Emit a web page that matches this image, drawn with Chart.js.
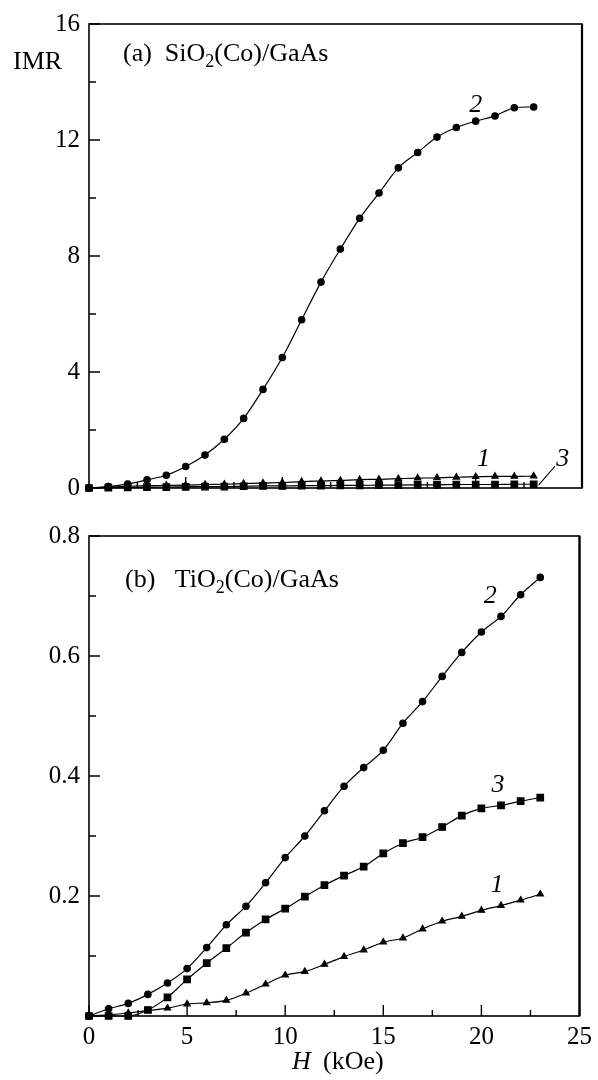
<!DOCTYPE html>
<html>
<head>
<meta charset="utf-8">
<script src="https://cdn.jsdelivr.net/npm/chart.js@4.4.1/dist/chart.umd.min.js"></script>
<style>
  html, body { margin: 0; padding: 0; background: #fff; }
  #wrap { position: relative; width: 598px; height: 1080px; }
  canvas { position: absolute; left: 0; }
  #top { top: 0; }
  #bottom { top: 512px; }
</style>
</head>
<body>
<div id="wrap">
  <canvas id="top" width="598" height="512"></canvas>
  <canvas id="bottom" width="598" height="568"></canvas>
</div>
<script>
// H field, kOe (same grid for both panels)
var fieldH = [0, 1, 2, 3, 4, 5, 6, 7, 8, 9, 10, 11, 12, 13, 14, 15, 16, 17, 18, 19, 20, 21, 22, 23];

// (a) SiO2(Co)/GaAs
var topCurve1 = [0, 0.03, 0.06, 0.08, 0.09, 0.10, 0.12, 0.13, 0.15, 0.17, 0.19, 0.22, 0.24, 0.26, 0.29, 0.30, 0.32, 0.34, 0.35, 0.37, 0.39, 0.40, 0.40, 0.41];
var topCurve2 = [0, 0.05, 0.14, 0.28, 0.44, 0.74, 1.14, 1.68, 2.40, 3.40, 4.50, 5.80, 7.10, 8.24, 9.30, 10.17, 11.04, 11.57, 12.10, 12.43, 12.65, 12.83, 13.11, 13.14];
var topCurve3 = [0, 0.01, 0.02, 0.03, 0.03, 0.04, 0.05, 0.05, 0.06, 0.07, 0.07, 0.08, 0.08, 0.09, 0.09, 0.10, 0.10, 0.11, 0.11, 0.12, 0.12, 0.12, 0.13, 0.13];

// (b) TiO2(Co)/GaAs
var botCurve1 = [0, 0.002, 0.005, 0.009, 0.013, 0.020, 0.022, 0.026, 0.038, 0.053, 0.068, 0.074, 0.086, 0.099, 0.110, 0.123, 0.130, 0.145, 0.158, 0.166, 0.176, 0.184, 0.193, 0.203];
var botCurve2 = [0, 0.012, 0.021, 0.036, 0.055, 0.079, 0.114, 0.152, 0.183, 0.222, 0.264, 0.300, 0.342, 0.383, 0.414, 0.443, 0.488, 0.524, 0.566, 0.606, 0.640, 0.666, 0.702, 0.731];
var botCurve3 = [0, 0, 0, 0.010, 0.031, 0.061, 0.088, 0.113, 0.139, 0.161, 0.179, 0.199, 0.218, 0.234, 0.249, 0.271, 0.288, 0.298, 0.315, 0.334, 0.346, 0.351, 0.358, 0.364];

// tick positions
var xMajorTicks = [0, 5, 10, 15, 20, 25];
var xMinorTicks = [2.5, 7.5, 12.5, 17.5, 22.5];
var topYMajor = [0, 4, 8, 12, 16];
var topYMinor = [2, 6, 10, 14];
var botYMajor = [0, 0.2, 0.4, 0.6, 0.8];
var botYMinor = [0.1, 0.3, 0.5, 0.7];

var SERIF = "'Liberation Serif', serif";

Chart.defaults.font.family = SERIF;
Chart.defaults.font.size = 25;
Chart.defaults.color = '#000';

function pts(ys) {
    return fieldH.map(function(h, i) { return { x: h, y: ys[i] }; });
}

function series(ys, style, r) {
    return {
        data: pts(ys),
        borderColor: '#000',
        backgroundColor: '#000',
        borderWidth: 1.2,
        pointStyle: style,
        pointRadius: r,
        pointHoverRadius: r,
        cubicInterpolationMode: 'monotone',
        clip: false
    };
}

// frame, inward ticks and text
var decor = {
    id: 'decor',
    afterDraw: function(chart, args, o) {
        var ctx = chart.ctx, a = chart.chartArea;
        var xs = chart.scales.x, ys = chart.scales.y;
        ctx.save();
        ctx.strokeStyle = '#000';
        ctx.lineWidth = 1.6;
        ctx.strokeRect(a.left, a.top, a.right - a.left, a.bottom - a.top);
        ctx.lineWidth = 2.2;
        ctx.beginPath();
        ctx.moveTo(a.right, a.top); ctx.lineTo(a.right, a.bottom);
        ctx.stroke();
        ctx.lineWidth = 1.4;
        ctx.beginPath();
        o.xMajor.forEach(function(v) {
            var px = xs.getPixelForValue(v);
            ctx.moveTo(px, a.bottom); ctx.lineTo(px, a.bottom - 11);
        });
        o.xMinor.forEach(function(v) {
            var px = xs.getPixelForValue(v);
            ctx.moveTo(px, a.bottom); ctx.lineTo(px, a.bottom - 6);
        });
        o.yMajor.forEach(function(v) {
            var py = ys.getPixelForValue(v);
            ctx.moveTo(a.left, py); ctx.lineTo(a.left + 11, py);
        });
        o.yMinor.forEach(function(v) {
            var py = ys.getPixelForValue(v);
            ctx.moveTo(a.left, py); ctx.lineTo(a.left + 7, py);
        });
        ctx.stroke();

        // panel title with subscript
        ctx.fillStyle = '#000';
        ctx.textBaseline = 'middle';
        ctx.textAlign = 'left';
        var tx = a.left + o.title.dx, ty = a.top + o.title.dy;
        ctx.font = '26px ' + SERIF;
        ctx.fillText(o.title.pre, tx, ty);
        tx += ctx.measureText(o.title.pre).width;
        ctx.font = '18px ' + SERIF;
        ctx.fillText('2', tx, ty + 8);
        tx += ctx.measureText('2').width;
        ctx.font = '26px ' + SERIF;
        ctx.fillText(o.title.post, tx, ty);

        // curve numbers
        ctx.font = 'italic 26px ' + SERIF;
        ctx.textAlign = 'center';
        o.labels.forEach(function(l) {
            ctx.fillText(l.t, xs.getPixelForValue(l.x), ys.getPixelForValue(l.y));
        });
        if (o.leader) {
            ctx.lineWidth = 1.1;
            ctx.beginPath();
            ctx.moveTo(xs.getPixelForValue(o.leader[0]), ys.getPixelForValue(o.leader[1]));
            ctx.lineTo(xs.getPixelForValue(o.leader[2]), ys.getPixelForValue(o.leader[3]));
            ctx.stroke();
        }

        if (o.extra) o.extra(ctx, chart);
        ctx.restore();
    }
};

// Panel (a)
new Chart(document.getElementById('top'), {
    type: 'line',
    data: { datasets: [
        series(topCurve1, 'triangle', 3.6),
        series(topCurve3, 'rect', 4.6),
        series(topCurve2, 'circle', 3.2)
    ] },
    plugins: [decor],
    options: {
        responsive: false,
        animation: false,
        layout: { padding: { top: 18, right: 16, left: 0, bottom: 0 } },
        plugins: {
            legend: { display: false },
            tooltip: { enabled: false },
            decor: {
                xMajor: [5, 10, 15, 20], xMinor: xMinorTicks,
                yMajor: topYMajor, yMinor: topYMinor,
                title: { pre: '(a)  SiO', post: '(Co)/GaAs', dx: 34, dy: 30 },
                labels: [
                    { t: '2', x: 20.0, y: 13.2 },
                    { t: '1', x: 20.4, y: 1.0 },
                    { t: '3', x: 24.5, y: 1.0 }
                ],
                leader: [23.25, 0.1, 24.1, 0.75],
                extra: function(ctx) {
                    ctx.font = '26px ' + SERIF;
                    ctx.textAlign = 'left';
                    ctx.fillText('IMR', 13, 62);
                }
            }
        },
        scales: {
            x: {
                type: 'linear', min: 0, max: 25.5,
                grid: { display: false }, border: { display: false },
                ticks: { display: false },
                afterFit: function(s) { s.height = 12; }
            },
            y: {
                min: 0, max: 16,
                grid: { display: false, drawTicks: false }, border: { display: false },
                ticks: { stepSize: 4, padding: 9 },
                afterFit: function(s) { s.width = 89; }
            }
        }
    }
});

// Panel (b)
new Chart(document.getElementById('bottom'), {
    type: 'line',
    data: { datasets: [
        series(botCurve1, 'triangle', 3.6),
        series(botCurve3, 'rect', 4.6),
        series(botCurve2, 'circle', 3.2)
    ] },
    plugins: [decor],
    options: {
        responsive: false,
        animation: false,
        layout: { padding: { top: 12, right: 16, left: 0, bottom: 0 } },
        plugins: {
            legend: { display: false },
            tooltip: { enabled: false },
            decor: {
                xMajor: xMajorTicks, xMinor: xMinorTicks,
                yMajor: botYMajor, yMinor: botYMinor,
                title: { pre: '(b)   TiO', post: '(Co)/GaAs', dx: 36, dy: 44 },
                labels: [
                    { t: '2', x: 20.45, y: 0.70 },
                    { t: '3', x: 20.85, y: 0.385 },
                    { t: '1', x: 20.8, y: 0.218 }
                ],
                extra: function(ctx) {
                    ctx.textAlign = 'left';
                    ctx.font = 'italic 26px ' + SERIF;
                    ctx.fillText('H', 292, 550);
                    ctx.font = '26px ' + SERIF;
                    ctx.fillText('(kOe)', 323, 550);
                }
            }
        },
        scales: {
            x: {
                type: 'linear', min: 0, max: 25,
                grid: { display: false, drawTicks: false }, border: { display: false },
                ticks: { stepSize: 5, padding: 6, maxRotation: 0 },
                afterFit: function(s) { s.height = 64; }
            },
            y: {
                min: 0, max: 0.8,
                grid: { display: false, drawTicks: false }, border: { display: false },
                ticks: {
                    stepSize: 0.2, padding: 9,
                    callback: function(v) { return v === 0 ? '' : v.toFixed(1); }
                },
                afterFit: function(s) { s.width = 89; }
            }
        }
    }
});
</script>
</body>
</html>
